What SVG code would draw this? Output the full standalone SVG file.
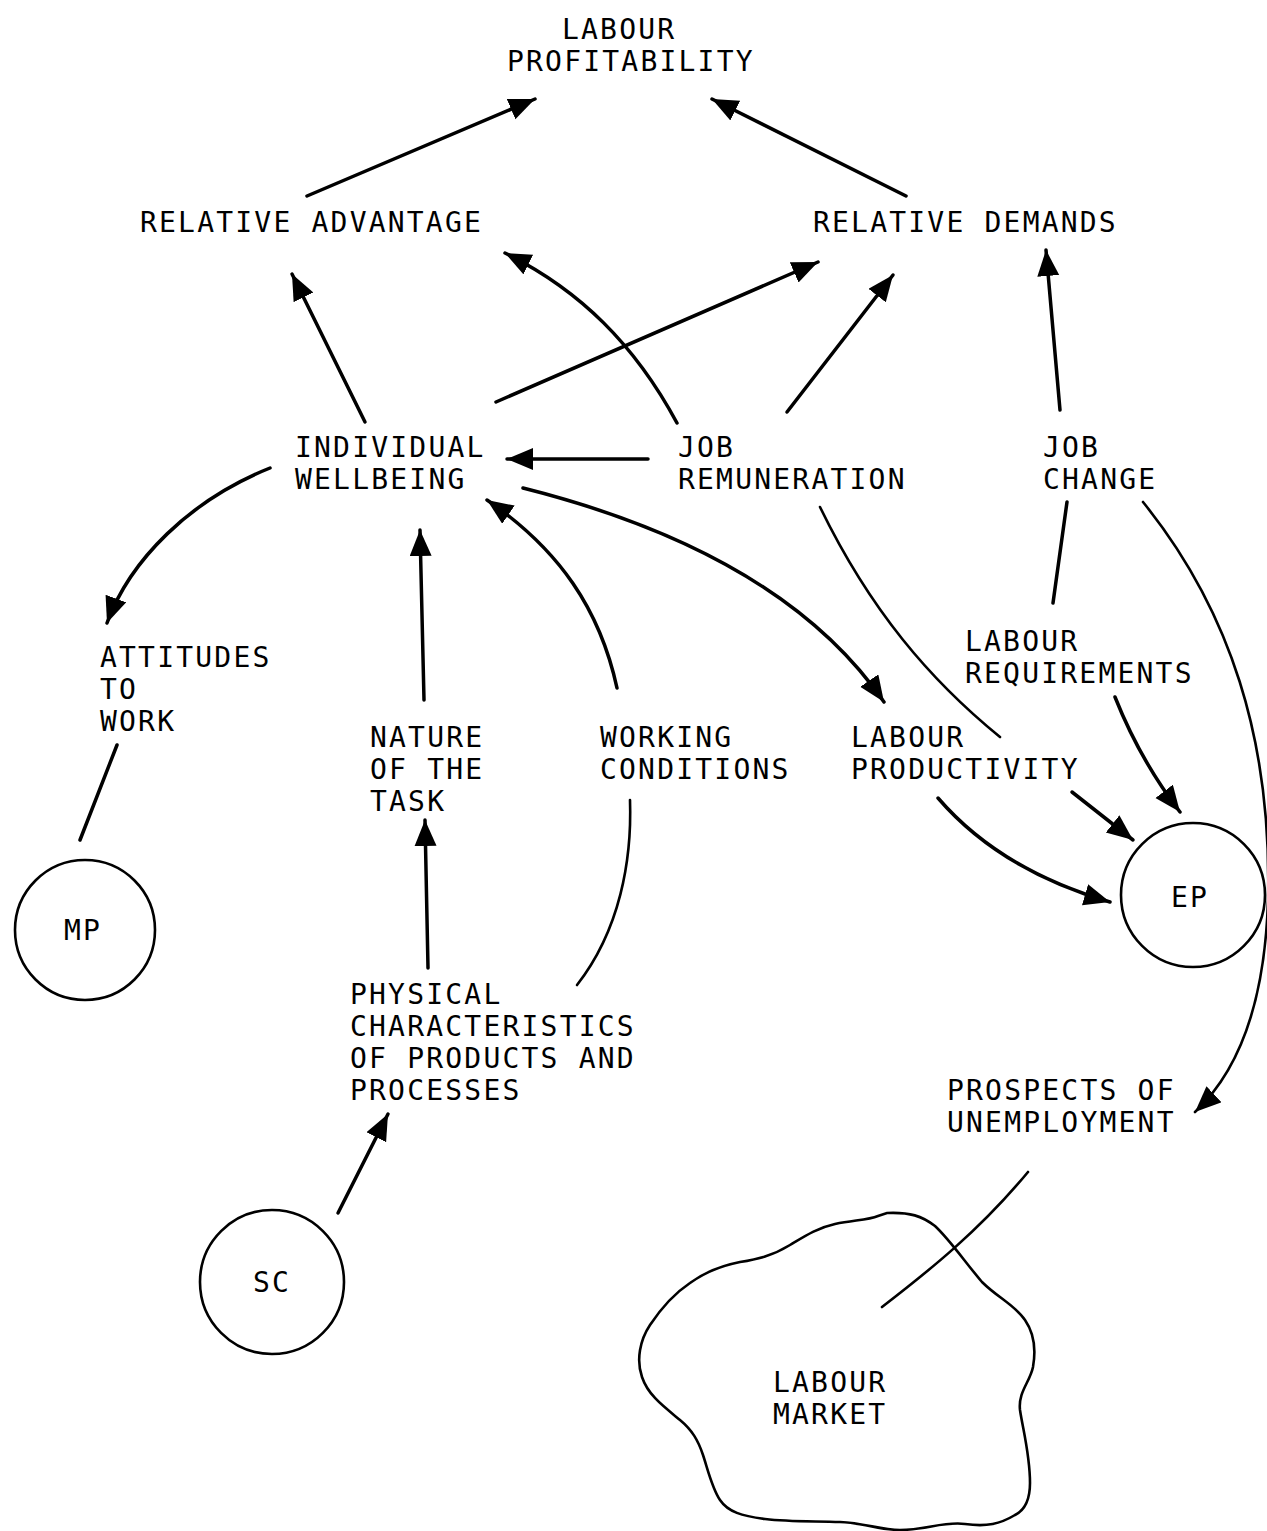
<svg xmlns="http://www.w3.org/2000/svg" width="1267" height="1531" viewBox="0 0 1267 1531">
<style>
text{font-family:"DejaVu Sans Mono","Liberation Mono",monospace;font-size:28px;letter-spacing:2.2px;fill:#000}
.c{fill:none;stroke:#000;stroke-width:3.5;stroke-linecap:round}
.t{fill:none;stroke:#000;stroke-width:2.6;stroke-linecap:round}
.a{marker-end:url(#ah)}
.n{fill:#fff;stroke:#000;stroke-width:2.6}
</style>
<defs>
<marker id="ah" markerUnits="userSpaceOnUse" markerWidth="28" markerHeight="24" refX="26" refY="11" orient="auto" viewBox="0 0 28 24">
<path d="M0,0 L26,11 L0,22 z" fill="#000"/>
</marker>
</defs>
<rect width="1267" height="1531" fill="#fff"/>
<g id="connectors">
<path class="c a" d="M307,196 L535,99"/>
<path class="c a" d="M906,196 L712,99"/>
<path class="c a" d="M365,422 L292,274"/>
<path class="c a" d="M496,402 L818,262"/>
<path class="c a" d="M677,423 C635,345 580,290 505,253"/>
<path class="c a" d="M787,412 L893,275"/>
<path class="c a" d="M648,459 L507,459"/>
<path class="c a" d="M1060,410 L1046,250"/>
<path class="c" d="M1053,603 L1067,502"/>
<path class="t a" d="M1143,502 C1230,610 1272,740 1268,900 C1265,1000 1240,1070 1195,1112"/>
<path class="t" d="M820,507 C870,610 930,680 1000,737"/>
<path class="c a" d="M1072,792 L1133,840"/>
<path class="c a" d="M1115,697 Q1140,760 1180,812"/>
<path class="c a" d="M938,798 Q1000,870 1110,902"/>
<path class="c a" d="M523,488 C650,520 800,580 884,702"/>
<path class="c a" d="M424,700 L420,530"/>
<path class="c a" d="M617,688 C600,610 560,550 487,500"/>
<path class="c a" d="M270,468 C190,500 130,560 107,623"/>
<path class="c" d="M117,745 L80,840"/>
<path class="c a" d="M428,968 L425,820"/>
<path class="t" d="M577,985 C620,930 632,860 630,800"/>
<path class="c a" d="M338,1213 L388,1114"/>
<path class="t" d="M1028,1172 C980,1230 930,1270 882,1307"/>
</g>
<g id="labour-profitability"><text x="562" y="39">LABOUR</text><text x="507" y="71">PROFITABILITY</text></g>
<g id="relative-advantage"><text x="140" y="232">RELATIVE ADVANTAGE</text></g>
<g id="relative-demands"><text x="813" y="232">RELATIVE DEMANDS</text></g>
<g id="individual-wellbeing"><text x="295" y="457">INDIVIDUAL</text><text x="295" y="489">WELLBEING</text></g>
<g id="job-remuneration"><text x="678" y="457">JOB</text><text x="678" y="489">REMUNERATION</text></g>
<g id="job-change"><text x="1043" y="457">JOB</text><text x="1043" y="489">CHANGE</text></g>
<g id="attitudes"><text x="100" y="667">ATTITUDES</text><text x="100" y="699">TO</text><text x="100" y="731">WORK</text></g>
<g id="labour-requirements"><text x="965" y="651">LABOUR</text><text x="965" y="683">REQUIREMENTS</text></g>
<g id="nature-of-task"><text x="370" y="747">NATURE</text><text x="370" y="779">OF THE</text><text x="370" y="811">TASK</text></g>
<g id="working-conditions"><text x="600" y="747">WORKING</text><text x="600" y="779">CONDITIONS</text></g>
<g id="labour-productivity"><text x="851" y="747">LABOUR</text><text x="851" y="779">PRODUCTIVITY</text></g>
<g id="mp"><circle class="n" cx="85" cy="930" r="70"/><text x="83" y="940" text-anchor="middle">MP</text></g>
<g id="ep"><circle class="n" cx="1193" cy="895" r="72"/><text x="1190" y="907" text-anchor="middle">EP</text></g>
<g id="physical-characteristics"><text x="350" y="1004">PHYSICAL</text><text x="350" y="1036">CHARACTERISTICS</text><text x="350" y="1068">OF PRODUCTS AND</text><text x="350" y="1100">PROCESSES</text></g>
<g id="prospects-unemployment"><text x="947" y="1100">PROSPECTS OF</text><text x="947" y="1132">UNEMPLOYMENT</text></g>
<g id="sc"><circle class="n" cx="272" cy="1282" r="72"/><text x="272" y="1292" text-anchor="middle">SC</text></g>
<g id="labour-market">
<path class="t" d="M887,1213 C910,1212 922,1216 935,1226 C950,1240 965,1262 982,1282 C998,1298 1015,1305 1025,1320 C1034,1333 1036,1350 1033,1367 C1030,1382 1018,1392 1020,1410 C1023,1430 1030,1455 1030,1483 C1030,1500 1025,1510 1015,1515 C1000,1524 987,1527 965,1524 C945,1521 925,1530 900,1530 C880,1530 865,1523 840,1522 C815,1521 790,1522 765,1519 C742,1516 728,1512 720,1500 C712,1488 708,1470 703,1455 C698,1440 692,1430 680,1420 C663,1406 648,1395 642,1377 C636,1360 640,1340 650,1325 C662,1307 675,1293 690,1283 C705,1272 720,1266 740,1262 C758,1259 772,1256 790,1245 C805,1236 817,1228 835,1224 C855,1220 868,1220 878,1216 Z"/>
<text x="773" y="1392">LABOUR</text><text x="773" y="1424">MARKET</text>
</g>
</svg>
